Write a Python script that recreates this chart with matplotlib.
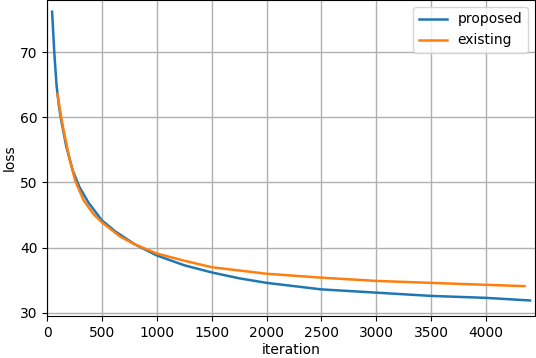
import numpy as np
import matplotlib.pyplot as plt

# values
prop_it = [45, 64, 85, 105, 124, 173, 234, 294, 377, 498, 620, 800, 1000,
           1250, 1500, 1750, 2000, 2500, 3000, 3500, 4000, 4400]
prop_loss = [76.2, 70.2, 65.0, 62.0, 59.9, 55.6, 51.8, 49.3, 46.9, 44.2, 42.5,
             40.5, 38.8, 37.3, 36.2, 35.3, 34.6, 33.6, 33.1, 32.6, 32.3, 31.9]

exist_it = [94, 120, 150, 200, 255, 331, 420, 498, 665, 800, 1000, 1250, 1500,
            1750, 2000, 2500, 3000, 3500, 4000, 4350]
exist_loss = [63.6, 60.8, 58.0, 53.9, 50.3, 47.3, 45.2, 43.9, 41.7, 40.5, 39.1,
              38.0, 37.0, 36.5, 36.0, 35.4, 34.9, 34.6, 34.3, 34.1]

plt.rcParams['font.size'] = 10

fig = plt.figure(figsize=(5.36, 3.58), dpi=100)
ax = fig.add_axes([0.088, 0.117, 0.910, 0.883])

ax.plot(prop_it, prop_loss, color='tab:blue', lw=1.8, label='proposed')
ax.plot(exist_it, exist_loss, color='tab:orange', lw=1.8, label='existing')

ax.set_xlim(0, 4445)
ax.set_ylim(29.5, 78)
ax.set_xticks(np.arange(0, 4001, 500))
ax.set_yticks([30, 40, 50, 60, 70])
ax.grid(True, color='#b0b0b0', lw=1)
ax.set_xlabel('iteration', labelpad=2)
ax.set_ylabel('loss', labelpad=2)
ax.legend(loc='upper right')

plt.savefig('out.png', dpi=100)
